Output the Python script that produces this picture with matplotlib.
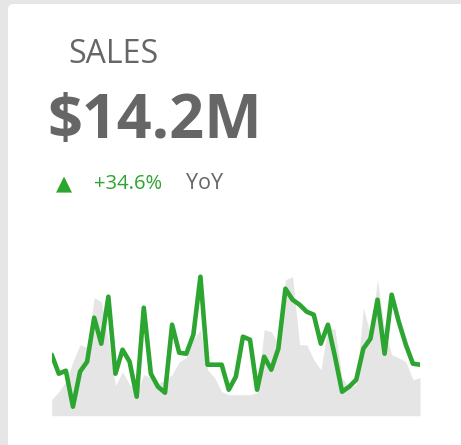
import matplotlib
matplotlib.use("Agg")
import matplotlib.pyplot as plt
from matplotlib.patches import FancyBboxPatch

# Weekly sales, this year (green) and last year (grey area)
weeks = list(range(53))
sales_ty = [61, 42, 45, 9, 44, 54, 98, 72, 119, 42, 66, 54, 19, 108, 42, 29,
            23, 91, 63, 62, 81, 139, 51, 51, 51, 26, 39, 79, 76, 26, 59, 46,
            67, 127, 116, 111, 104, 101, 72, 91, 59, 24, 29, 36, 67, 77, 116,
            62, 121, 94, 71, 52, 51]
sales_ly = [16, 24, 34, 54, 71, 68, 118, 114, 76, 30, 44, 31, 24, 41, 38, 32,
            36, 41, 54, 58, 76, 86, 46, 38, 24, 21, 21, 21, 21, 23, 86, 84,
            71, 136, 139, 71, 71, 56, 46, 89, 86, 38, 28, 31, 108, 81, 136,
            86, 61, 58, 54, 36, 38]

title = "SALES"
kpi = "$14.2M"
change = "+34.6%"
change_label = "YoY"

GREEN = "#2ca531"
TEXT = "#666666"
W, H = 461, 445

fig = plt.figure(figsize=(W / 100, H / 100), dpi=100)
fig.patch.set_facecolor("#e6e6e6")

# white card
card = FancyBboxPatch((8 / W, -0.05), 1.2, 1 - 4 / H + 0.05,
                      boxstyle="round,pad=0,rounding_size=0.012",
                      transform=fig.transFigure, facecolor="white",
                      edgecolor="none", zorder=-5)
fig.patches.append(card)


def px(x, y):
    return x / W, 1 - y / H


fig.text(*px(68, 63), title, fontsize=23, family="Open Sans",
         color=TEXT, va="baseline")
fig.text(*px(47, 138), kpi, fontsize=44, family="Open Sans",
         fontweight="bold", color=TEXT, va="baseline")
fig.text(*px(56, 190), "\u25b2", fontsize=15, family="DejaVu Sans",
         color=GREEN, va="baseline")
fig.text(*px(94, 189), change, fontsize=14.5, family="Open Sans",
         fontweight="medium", color=GREEN, va="baseline")
fig.text(*px(186, 189), change_label, fontsize=15.5, family="Open Sans",
         color=TEXT, va="baseline")

# sparkline
ax = fig.add_axes([51.7 / W, 29.3 / H, 368.3 / W, 150.7 / H], zorder=2)
ax.patch.set_alpha(0)
ax.fill_between(weeks, sales_ly, 0, color="#e5e5e5", linewidth=0)
ax.plot(weeks, sales_ty, color=GREEN, linewidth=3.3, solid_joinstyle="round",
        solid_capstyle="round")
ax.set_xlim(0, len(weeks) - 1)
ax.set_ylim(0, 150.7)
ax.axis("off")

fig.savefig("out.png", dpi=100, facecolor=fig.get_facecolor())
